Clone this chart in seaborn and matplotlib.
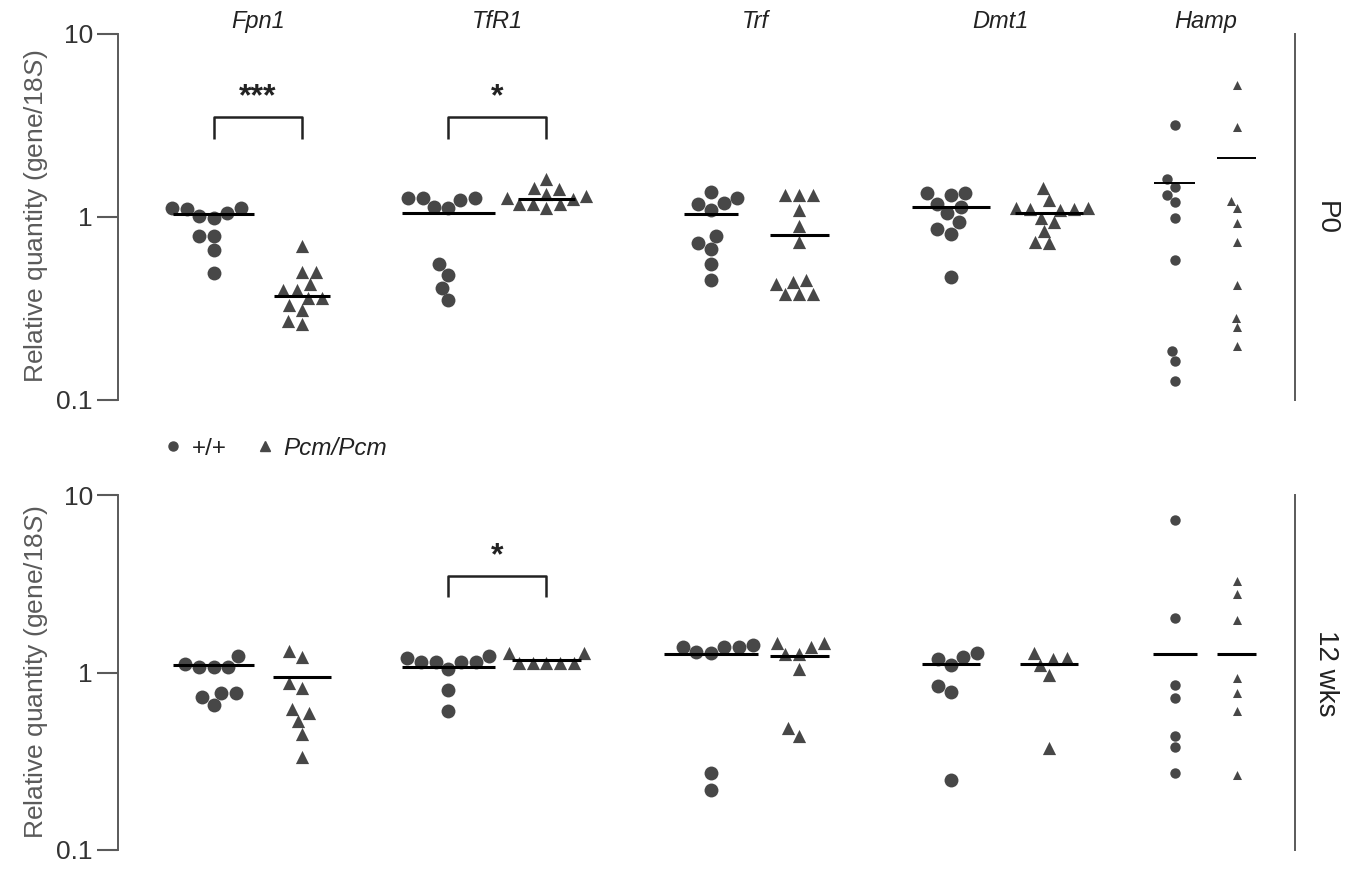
import numpy as np
import pandas as pd
import matplotlib
matplotlib.use('Agg')
import matplotlib.pyplot as plt
import seaborn as sns
from matplotlib.lines import Line2D
from matplotlib.ticker import NullLocator

# gene order and genotypes
genes = ['Fpn1', 'TfR1', 'Trf', 'Dmt1', 'Hamp']
genotypes = ['+/+', 'Pcm/Pcm']

# P0 values (relative quantity, gene/18S)
p0_wt = {
    'Fpn1': [1.01, 1.12, 1.12, 0.99, 1.10, 1.05, 0.79, 0.79, 0.66, 0.49],
    'TfR1': [1.13, 1.27, 1.12, 1.24, 1.27, 1.27, 0.55, 0.48, 0.41, 0.35],
    'Trf':  [1.27, 1.37, 1.18, 1.19, 1.09, 0.79, 0.72, 0.67, 0.55, 0.45],
    'Dmt1': [1.35, 1.32, 1.35, 1.13, 1.18, 1.05, 0.94, 0.86, 0.81, 0.47],
    'Hamp': [3.18, 1.60, 1.45, 1.32, 1.20, 0.98, 0.58, 0.185, 0.163, 0.127],
}
p0_pcm = {
    'Fpn1': [0.69, 0.50, 0.50, 0.43, 0.40, 0.40, 0.36, 0.36, 0.33, 0.31, 0.27, 0.26],
    'TfR1': [1.34, 1.18, 1.61, 1.44, 1.30, 1.18, 1.42, 1.27, 1.18, 1.25, 1.12],
    'Trf':  [1.32, 1.32, 1.32, 1.09, 0.89, 0.73, 0.43, 0.44, 0.45, 0.38, 0.38, 0.38],
    'Dmt1': [1.44, 1.24, 1.10, 1.12, 1.12, 1.10, 1.09, 0.99, 0.94, 0.84, 0.72, 0.73],
    'Hamp': [5.26, 3.10, 1.22, 1.12, 0.92, 0.73, 0.425, 0.28, 0.25, 0.197],
}
p0_wt_line = [1.03, 1.05, 1.04, 1.13, 1.53]
p0_pcm_line = [0.37, 1.25, 0.80, 1.05, 2.10]

# 12 weeks values
wk12_wt = {
    'Fpn1': [1.08, 1.24, 1.08, 1.12, 1.08, 0.77, 0.77, 0.73, 0.66],
    'TfR1': [1.15, 1.15, 1.24, 1.21, 1.05, 1.15, 1.15, 0.80, 0.61],
    'Trf':  [1.31, 1.43, 1.39, 1.29, 1.39, 1.39, 0.27, 0.218],
    'Dmt1': [1.23, 1.29, 1.19, 1.11, 0.84, 0.78, 0.247],
    'Hamp': [7.28, 2.04, 0.85, 0.72, 0.44, 0.38, 0.27],
}
wk12_pcm = {
    'Fpn1': [1.32, 1.23, 0.87, 0.82, 0.62, 0.59, 0.53, 0.45, 0.335],
    'TfR1': [1.14, 1.29, 1.29, 1.14, 1.14, 1.14, 1.14],
    'Trf':  [1.46, 1.46, 1.39, 1.27, 1.27, 1.05, 0.49, 0.44],
    'Dmt1': [1.21, 1.29, 1.19, 1.11, 0.97, 0.375],
    'Hamp': [3.30, 2.77, 1.99, 0.93, 0.77, 0.61, 0.263],
}
wk12_wt_line = [1.11, 1.08, 1.27, 1.12, 1.27]
wk12_pcm_line = [0.94, 1.18, 1.24, 1.12, 1.27]

# significance: (gene, label) per panel
p0_sig = [('Fpn1', '***'), ('TfR1', '*')]
wk12_sig = [('TfR1', '*')]

# layout
gene_x = [0, 0.978, 2.03, 3.03, 3.87]
pair_off = [0.18, 0.2, 0.18, 0.2, 0.127]
p0_hw = ([0.165, 0.19, 0.11, 0.16, 0.085], [0.115, 0.115, 0.12, 0.14, 0.08])
wk12_hw = ([0.165, 0.19, 0.19, 0.12, 0.09], [0.12, 0.14, 0.12, 0.12, 0.08])
mcol = '#474747'
gray = '#5a5a5a'

sns.set_style('white')
plt.rcParams['font.family'] = ['Liberation Sans', 'DejaVu Sans']
plt.rcParams['mathtext.fontset'] = 'custom'
plt.rcParams['mathtext.rm'] = 'Liberation Sans'
plt.rcParams['mathtext.it'] = 'Liberation Sans:italic'

fig = plt.figure(figsize=(13.5, 8.69), dpi=100)
ax_top = fig.add_axes([0.0874, 0.540, 0.8716, 0.421])
ax_bot = fig.add_axes([0.0874, 0.022, 0.8716, 0.408])


def draw_panel(ax, wt, pcm, wt_line, pcm_line, hw, sig, line_w):
    ax.set_yscale('log')
    for i, g in enumerate(genes):
        small = g == 'Hamp'
        for j, (vals, mk, lv) in enumerate([(wt[g], 'o', wt_line[i]), (pcm[g], '^', pcm_line[i])]):
            xc = gene_x[i] + (2 * j - 1) * pair_off[i]
            d = pd.DataFrame({'x': xc, 'value': vals, 'genotype': genotypes[j]})
            if mk == 'o':
                sz = 7.5 if small else 10
            else:
                sz = 6.5 if small else 9.5
            sns.swarmplot(data=d, x='x', y='value', native_scale=True, marker=mk,
                          size=sz, color=mcol, linewidth=0, ax=ax, zorder=2)
            ax.hlines(lv, xc - hw[j][i], xc + hw[j][i], colors='black',
                      lw=line_w[i], zorder=3)
    for g, lab in sig:
        i = genes.index(g)
        x0 = gene_x[i] - pair_off[i]
        x1 = gene_x[i] + pair_off[i]
        ax.plot([x0, x0, x1, x1], [2.67, 3.5, 3.5, 2.67], color='#222222',
                lw=1.8, solid_capstyle='butt', clip_on=False)
        ax.text(gene_x[i], 3.75, lab, ha='center', va='bottom', fontsize=23,
                fontweight='bold', color='#222222')

    ax.set_xlim(-0.571, 4.233)
    ax.set_ylim(0.1, 10)
    ax.set_xticks([])
    ax.set_yticks([0.1, 1, 10])
    ax.set_yticklabels(['0.1', '1', '10'])
    ax.yaxis.set_minor_locator(NullLocator())
    ax.tick_params(axis='y', length=15, width=1.5, color=gray, labelsize=19,
                   labelcolor='#333333', pad=3, left=True)
    ax.set_xlabel('')
    ax.set_ylabel('Relative quantity (gene/$\\it{18S}$)', fontsize=19,
                  color=gray, labelpad=5)
    ax.spines['top'].set_visible(False)
    ax.spines['bottom'].set_visible(False)
    for s in ['left', 'right']:
        ax.spines[s].set_color(gray)
        ax.spines[s].set_linewidth(1.4)
    ax.patch.set_alpha(0)


draw_panel(ax_top, p0_wt, p0_pcm, p0_wt_line, p0_pcm_line, p0_hw, p0_sig,
           [2.2, 2.2, 2.2, 2.2, 1.4])
draw_panel(ax_bot, wk12_wt, wk12_pcm, wk12_wt_line, wk12_pcm_line, wk12_hw, wk12_sig,
           [2.2, 2.2, 2.2, 2.2, 2.2])

# gene titles
for i, g in enumerate(genes):
    ax_top.annotate(g, xy=(gene_x[i], 1.035), xycoords=('data', 'axes fraction'),
                    ha='center', va='center', fontsize=17, fontstyle='italic',
                    color='#222222')

# right panel labels
fig.text(0.982, 0.749, 'P0', rotation=270, ha='center', va='center', fontsize=20,
         color='#222222')
fig.text(0.982, 0.225, '12 wks', rotation=270, ha='center', va='center', fontsize=20,
         color='#222222')

# legend
handles = [
    Line2D([], [], marker='o', linestyle='none', color=mcol, markersize=6.5),
    Line2D([], [], marker='^', linestyle='none', color=mcol, markersize=7.5),
]
leg = fig.legend(handles, genotypes, loc='center left', bbox_to_anchor=(0.105, 0.484),
                 ncol=2, frameon=False, fontsize=17.5, handletextpad=0.35,
                 columnspacing=1.2, handlelength=0.8)
leg.get_texts()[1].set_fontstyle('italic')
for t in leg.get_texts():
    t.set_color('#222222')

fig.savefig('out.png', dpi=100)
